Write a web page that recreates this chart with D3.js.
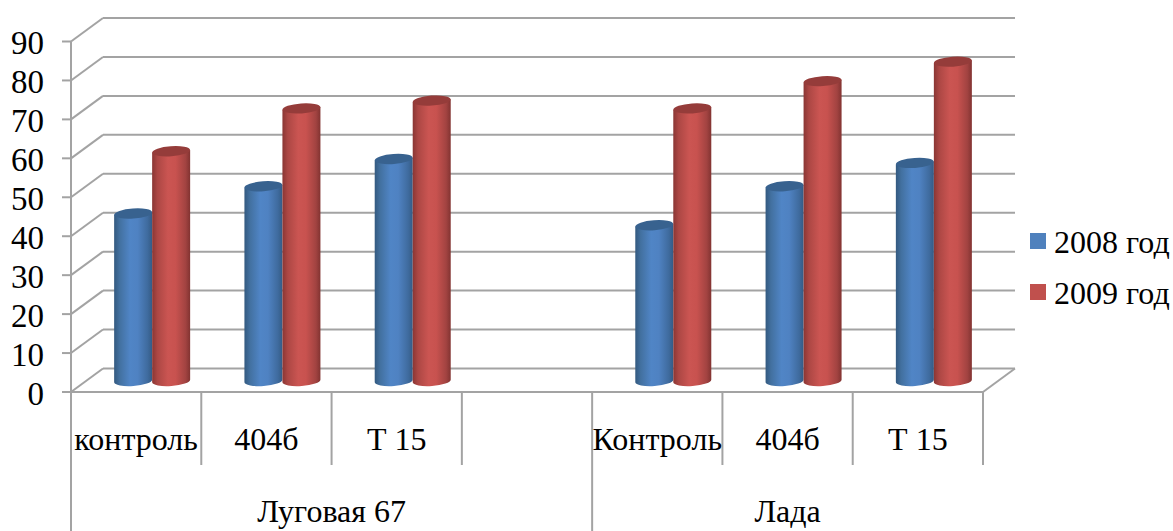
<!DOCTYPE html>
<html>
<head>
<meta charset="utf-8">
<script src="https://cdn.jsdelivr.net/npm/d3@7"></script>
<style>
html,body{margin:0;padding:0;background:#fff}
svg{display:block}
text{font-family:"Liberation Serif","Times New Roman",serif;fill:#000}
</style>
</head>
<body>
<svg id="chart" width="1173" height="531"></svg>
<script>
// Chart data
const categories = ["контроль", "404б", "Т 15", "", "Контроль", "404б", "Т 15"];
const groups = [
  { name: "Луговая 67", from: 0, to: 4 },
  { name: "Лада", from: 4, to: 7 }
];
const values2008 = [43, 50, 57, null, 40, 50, 56];
const values2009 = [59, 70, 72, null, 70, 77, 82];
const seriesNames = ["2008 год", "2009 год"];
const yTicks = [0, 10, 20, 30, 40, 50, 60, 70, 80, 90];

const svg = d3.select("#chart");
const grid = "#a3a3a3";

// Front plane scales; the back wall and the bars are offset in depth from it
const x = d3.scaleBand().domain(d3.range(categories.length)).range([71, 983]);
const y = d3.scaleLinear().domain([0, 90]).range([392, 41.5]);
const depth = { x: 32, y: -23.5 };
const barShift = { x: 16, y: -11 };
const barW = 38, ry = 5, tilt = -4;

// Horizontal shading that gives each bar its cylinder look
const defs = svg.append("defs");
function shade(id, stops) {
  const g = defs.append("linearGradient").attr("id", id);
  stops.forEach(([o, c]) => g.append("stop").attr("offset", o).attr("stop-color", c));
}
shade("cyl0", [[0, "#33597f"], [0.14, "#42709f"], [0.42, "#5085c6"], [0.62, "#4f82c2"], [0.88, "#3f6b9e"], [1, "#345b85"]]);
shade("cyl1", [[0, "#8a3634"], [0.14, "#ac4744"], [0.42, "#cb5552"], [0.62, "#c8524f"], [0.88, "#a24341"], [1, "#823331"]]);
const topColor = ["#38628f", "#953c3a"];
const legendColor = ["#4f81bd", "#c0504d"];

// Walls: horizontal lines on the back, depth lines on the left side and floor
const walls = svg.append("g").attr("stroke", grid).attr("stroke-width", 2).attr("fill", "none");
walls.selectAll(".back").data(yTicks).join("line")
  .attr("x1", 71 + depth.x).attr("x2", 983 + depth.x)
  .attr("y1", d => y(d) + depth.y).attr("y2", d => y(d) + depth.y);
walls.selectAll(".side").data(yTicks).join("line")
  .attr("x1", 71).attr("x2", 71 + depth.x)
  .attr("y1", d => y(d)).attr("y2", d => y(d) + depth.y);
walls.append("line").attr("x1", 983).attr("x2", 983 + depth.x)
  .attr("y1", y(0)).attr("y2", y(0) + depth.y);
walls.append("line").attr("x1", 71).attr("x2", 71)
  .attr("y1", y(90)).attr("y2", 531);
walls.append("line").attr("x1", 71).attr("x2", 983)
  .attr("y1", y(0)).attr("y2", y(0));
walls.selectAll(".tick").data(yTicks).join("line")
  .attr("x1", 62).attr("x2", 71)
  .attr("y1", d => y(d)).attr("y2", d => y(d));

// Category separators; the one between the two groups runs to the bottom edge
walls.selectAll(".sep").data(d3.range(1, categories.length + 1)).join("line")
  .attr("x1", i => i === categories.length ? x(i - 1) + x.bandwidth() : x(i))
  .attr("x2", i => i === categories.length ? x(i - 1) + x.bandwidth() : x(i))
  .attr("y1", y(0))
  .attr("y2", i => i === groups[1].from ? 531 : 465);

// Value axis labels
svg.selectAll(".ylab").data(yTicks).join("text")
  .attr("x", 44).attr("y", d => y(d) + 12.5)
  .attr("text-anchor", "end").attr("font-size", 33)
  .text(d => d);

// Cylinders, blue first so that the red one overlaps its edge
function cylinder(sel, value, cx, s) {
  const base = y(0) + barShift.y;
  const top = base - (y(0) - y(value));
  const l = cx - barW / 2, r = cx + barW / 2;
  const dy = barW / 2 * Math.tan(tilt * Math.PI / 180);
  sel.append("path")
    .attr("d", `M${l},${top - dy}L${l},${base - dy}A${barW / 2},${ry} ${tilt} 0 0 ${r},${base + dy}L${r},${top + dy}Z`)
    .attr("fill", `url(#cyl${s})`);
  sel.append("ellipse")
    .attr("cx", cx).attr("cy", top).attr("rx", barW / 2).attr("ry", ry)
    .attr("transform", `rotate(${tilt} ${cx} ${top})`)
    .attr("fill", topColor[s]);
}
const bars = svg.append("g");
categories.forEach((c, i) => {
  const mid = x(i) + x.bandwidth() / 2 + barShift.x;
  [values2008, values2009].forEach((vals, s) => {
    if (vals[i] !== null) cylinder(bars.append("g"), vals[i], mid + (s === 0 ? -barW / 2 : barW / 2), s);
  });
});

// Category and group labels
svg.selectAll(".cat").data(categories).join("text")
  .attr("x", (d, i) => x(i) + x.bandwidth() / 2)
  .attr("y", 450).attr("text-anchor", "middle").attr("font-size", 32)
  .text(d => d);
svg.selectAll(".grp").data(groups).join("text")
  .attr("x", d => (x(d.from) + (d.to === categories.length ? 983 : x(d.to))) / 2)
  .attr("y", 522).attr("text-anchor", "middle").attr("font-size", 32)
  .text(d => d.name);

// Legend
const legend = svg.selectAll(".leg").data(seriesNames).join("g")
  .attr("transform", (d, i) => `translate(1030,${233 + i * 51})`);
legend.append("rect").attr("width", 16).attr("height", 16).attr("fill", (d, i) => legendColor[i]);
legend.append("text").attr("x", 24).attr("y", 20).attr("font-size", 32).text(d => d);
</script>
</body>
</html>
